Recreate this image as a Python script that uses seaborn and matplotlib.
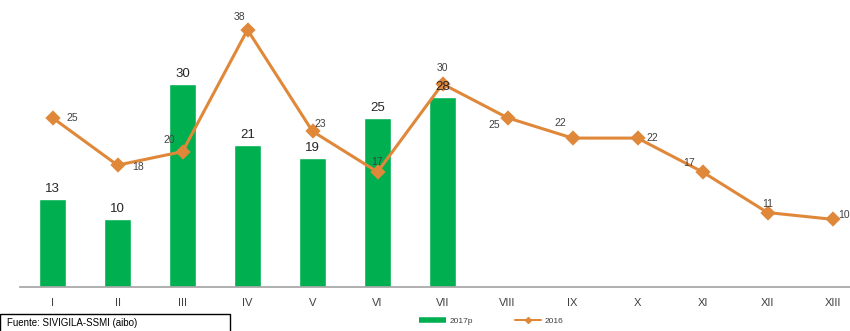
"""Casos por periodo epidemiológico: 2017p (barras) frente a 2016 (línea)."""

import matplotlib

matplotlib.use("Agg")
import matplotlib.pyplot as plt
import pandas as pd
import seaborn as sns
from matplotlib.lines import Line2D
from matplotlib.patches import Rectangle

periodos = ["I", "II", "III", "IV", "V", "VI", "VII",
            "VIII", "IX", "X", "XI", "XII", "XIII"]
casos_2017p = [13, 10, 30, 21, 19, 25, 28]
casos_2016 = [25, 18, 20, 38, 23, 17, 30, 25, 22, 22, 17, 11, 10]

# desplazamiento (px) de cada etiqueta de la línea respecto a su punto
offsets_2016 = [(20, 0), (21, -2), (-13, 12), (-8, 13), (8, 7), (0, 10), (0, 16),
                (-13, -7), (-12, 15), (15, 0), (-13, 9), (0, 9), (12, 4)]

VERDE = "#00B050"
NARANJA = "#E0883A"

sns.set_theme(style="white")
plt.rcParams["font.family"] = ["Liberation Sans", "DejaVu Sans"]

df_2017 = pd.DataFrame({"periodo": periodos[:len(casos_2017p)], "casos": casos_2017p})
df_2016 = pd.DataFrame({"periodo": periodos, "casos": casos_2016})

fig = plt.figure(figsize=(8.5, 3.31), dpi=100)
ax = fig.add_axes([20 / 850, 44 / 331, 845 / 850, 287 / 331])

sns.barplot(data=df_2017, x="periodo", y="casos", order=periodos,
            color=VERDE, saturation=1, width=0.42, ax=ax)
ax.bar_label(ax.containers[0], padding=3, fontsize=9.5, color="#262626")

sns.pointplot(data=df_2016, x="periodo", y="casos", order=periodos,
              color=NARANJA, marker="D", markersize=6, linewidth=2.2, ax=ax)

for i, (v, (dx, dy)) in enumerate(zip(casos_2016, offsets_2016)):
    ax.annotate(str(v), (i, v), xytext=(dx, dy), textcoords="offset pixels",
                ha="center", va="center", fontsize=7.5, color="#404040")

ax.set_ylim(0, 42.4)
ax.set_xlim(-0.5, len(periodos) - 0.5)
ax.set_xlabel("")
ax.set_ylabel("")
ax.set_yticks([])
for lado in ["top", "right", "left"]:
    ax.spines[lado].set_visible(False)
ax.spines["bottom"].set_color("#A6A6A6")
ax.tick_params(axis="x", which="major", length=0, pad=8, labelsize=8, labelcolor="#404040")
ax.set_xticks([i - 0.5 for i in range(len(periodos) + 1)], minor=True)
ax.tick_params(axis="x", which="minor", length=3, color="#A6A6A6", direction="out")

handles = [
    Line2D([], [], color=VERDE, linewidth=4, solid_capstyle="butt"),
    Line2D([], [], color=NARANJA, linewidth=1.5, marker="D", markersize=3),
]
fig.legend(handles, ["2017p", "2016"], loc="center", bbox_to_anchor=(0.578, 0.031),
           ncol=2, frameon=False, fontsize=6, handlelength=3.2, columnspacing=5,
           handletextpad=0.4, labelcolor="#404040")

fig.patches.append(Rectangle((0.0, -0.05), 230 / 850, 0.101, transform=fig.transFigure,
                             fill=False, edgecolor="black", linewidth=1))
fig.text(0.008, 0.024, "Fuente: SIVIGILA-SSMI (aibo)", fontsize=7, color="black",
         va="center")

fig.savefig("out.png", dpi=100)
